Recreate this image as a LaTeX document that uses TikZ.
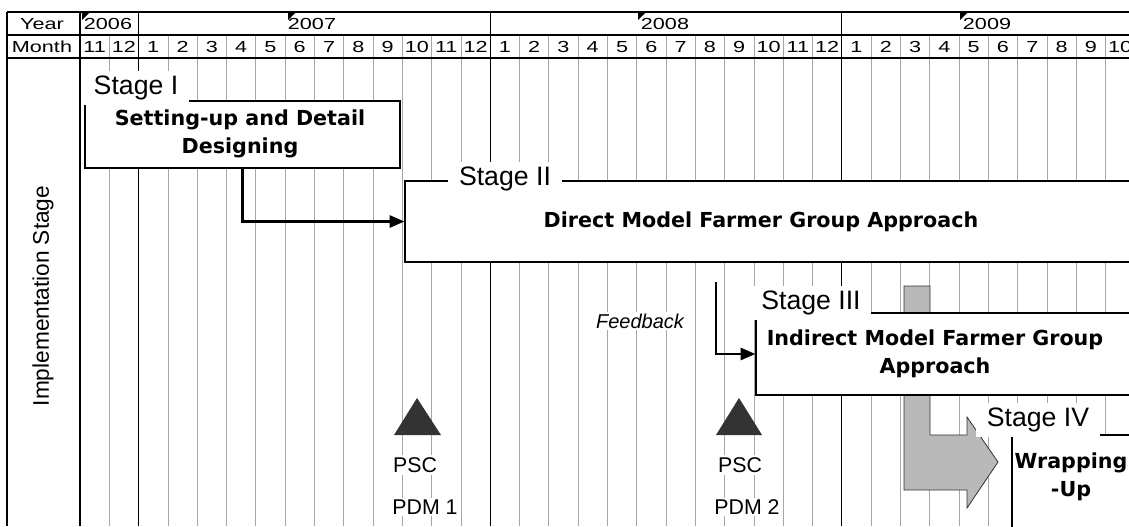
\documentclass[tikz,border=0pt]{standalone}
\usepackage{fontspec}
\setmainfont{Liberation Sans}
\newfontfamily\headfont[FakeStretch=1.35]{Liberation Sans}
\newfontfamily\boxfont{DejaVu Sans}
\usepackage{tikz}
\usetikzlibrary{arrows.meta, positioning, fit}

\tikzset{
  gridline/.style={gray!70, line width=0.6pt},
  yearline/.style={black, line width=0.9pt},
  stagebox/.style={draw, fill=white, line width=0.9pt, inner sep=0pt},
  stagelabel/.style={fill=white, inner xsep=8pt, inner ysep=3.5pt, font=\fontsize{20}{24}\selectfont},
  boxtext/.style={font=\boxfont\bfseries\fontsize{15.5}{21}\selectfont, align=center},
  headtext/.style={font=\headfont\fontsize{12}{14}\selectfont},
  flow/.style={line width=1.8pt, -{Triangle[length=11pt,width=9pt]}},
  bigarrow/.style={fill=gray!55, draw=gray!40!black, line width=0.6pt},
  milestone/.style={fill=black!80},
  note/.style={fill=white, inner sep=1.5pt, font=\fontsize{16}{19}\selectfont}
}

\begin{document}
\begin{tikzpicture}[x=0.75pt, y=-0.75pt]
  \useasboundingbox (0,0) rectangle (1129,526);
  \clip (0,0) rectangle (1129,526);

  % month width and start of the time axis
  \def\mw{29.3}
  \def\xs{80}

  % --- Grid ---
  \foreach \k in {0,...,35}
    \draw[gridline] ({\xs+\k*\mw},35) -- ({\xs+\k*\mw},526);
  \foreach \k in {0,2,14,26}
    \draw[yearline] ({\xs+\k*\mw},12) -- ({\xs+\k*\mw},526);
  \draw[yearline] (7,12) -- (7,526);
  \draw[yearline] (7,12) -- (1129,12);
  \draw[yearline] (7,35) -- (1129,35);
  \draw[yearline] (7,58) -- (1129,58);

  % --- Header ---
  \node[headtext] (year) at (42,24) {Year};
  \node[headtext] (month) at (42,47) {Month};
  \node[headtext] (y2006) at (108,24) {2006};
  \node[headtext] (y2007) at (312,24) {2007};
  \node[headtext] (y2008) at (665,24) {2008};
  \node[headtext] (y2009) at (987,24) {2009};
  \foreach \x in {82,288,638,960}
    \fill (\x,13) -- ++(7,0) -- ++(-7,7) -- cycle;
  \foreach \m [count=\k from 0] in {11,12,1,2,3,4,5,6,7,8,9,10,11,12,1,2,3,4,5,6,7,8,9,10,11,12,1,2,3,4,5,6,7,8,9,10}
    \node[headtext] (m\k) at ({\xs+(\k+0.5)*\mw},47) {\m};

  % Row title
  \node[rotate=90, font=\fontsize{17}{20}\selectfont] (impl) at (43,296) {Implementation Stage};

  % --- Gray arrow (behind Stage III) ---
  \draw[bigarrow] (904,286) -- (930,286) -- (930,435) -- (967,435) -- (967,417)
    -- (998,462) -- (967,508) -- (967,490) -- (904,490) -- cycle;

  % --- Stage boxes ---
  \node[stagebox, fit={(85,101) (400,168)}] (stage1) {};
  \node[stagebox, fit={(405,181) (1160,262)}] (stage2) {};
  \node[stagebox, fit={(756,313) (1160,395)}] (stage3) {};
  \node[stagebox, fit={(1012,435) (1160,540)}] (stage4) {};

  % Stage labels
  \node[stagelabel] (lbl1) at (136,88) {Stage I};
  \node[stagelabel] (lbl2) at (505,179) {Stage II};
  \node[stagelabel] (lbl3) at (811,303) {Stage III};
  \node[stagelabel] (lbl4) at (1038,420) {Stage IV};

  % Box texts
  \node[boxtext] (txt1) at (240,134) {Setting-up and Detail\\Designing};
  \node[boxtext] (txt2) at (761,222) {Direct Model Farmer Group Approach};
  \node[boxtext] (txt3) at (935,354) {Indirect Model Farmer Group\\Approach};
  \node[boxtext] (txt4) at (1071,477) {Wrapping\\-Up};

  % --- Connectors ---
  \draw[flow] (stage1.south) |- (stage2.west);
  \coordinate (fbstart) at (716,282);
  \draw[flow] (fbstart) |- (stage3.west);
  \node[note, font=\itshape\fontsize{15}{18}\selectfont] (feedback) at (640,321) {Feedback};

  % --- PSC milestones ---
  \fill[milestone] (394,435) -- (417,398) -- (441,435) -- cycle;
  \node[note] (psc1) at (415,465) {PSC};
  \node[note] (pdm1) at (425,507) {PDM 1};
  \fill[milestone] (716,435) -- (739,398) -- (762,435) -- cycle;
  \node[note] (psc2) at (740,465) {PSC};
  \node[note] (pdm2) at (747,507) {PDM 2};
\end{tikzpicture}
\end{document}
